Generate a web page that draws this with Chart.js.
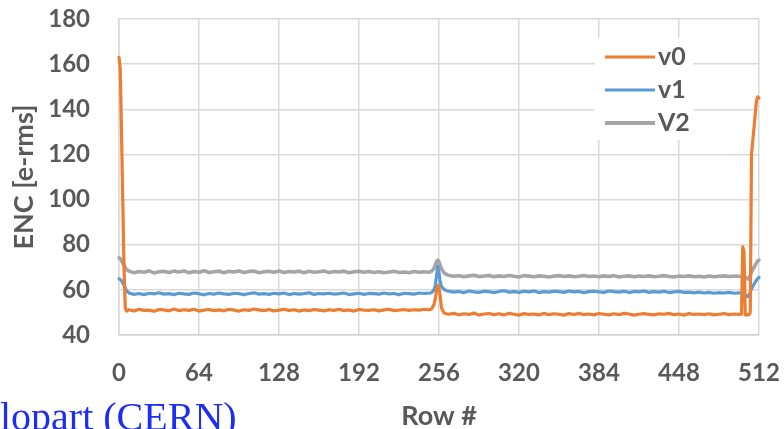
<!DOCTYPE html>
<html>
<head>
<meta charset="utf-8">
<script src="https://cdn.jsdelivr.net/npm/chart.js@4/dist/chart.umd.min.js"></script>
<style>
  html, body { margin: 0; padding: 0; background: #ffffff; }
  #wrap { width: 784px; height: 429px; position: relative; }
</style>
</head>
<body>
<div id="wrap"><canvas id="enc"></canvas></div>
<script>
// Row numbers at which ENC was sampled
const rows = [
  0, 1, 2, 3, 4, 5, 6,
  8, 12, 16, 20, 24, 28, 32, 36, 40, 44,
  48, 52, 56, 60, 64, 68, 72, 76, 80, 84,
  88, 92, 96, 100, 104, 108, 112, 116, 120, 124,
  128, 132, 136, 140, 144, 148, 152, 156, 160, 164,
  168, 172, 176, 180, 184, 188, 192, 196, 200, 204,
  208, 212, 216, 220, 224, 228, 232, 236, 240, 244,
  248,
  250, 252, 253, 254, 255, 256, 257, 258, 260, 262,
  264, 268, 272, 276, 280, 284, 288, 292, 296, 300,
  304, 308, 312, 316, 320, 324, 328, 332, 336, 340,
  344, 348, 352, 356, 360, 364, 368, 372, 376, 380,
  384, 388, 392, 396, 400, 404, 408, 412, 416, 420,
  424, 428, 432, 436, 440, 444, 448, 452, 456, 460,
  464, 468, 472, 476, 480, 484, 488, 492, 496,
  498, 499, 500, 501, 502, 503, 504, 505, 506, 508, 510, 511, 512
];

// ENC [e-rms] for each front-end version
const encV0 = [
  163, 158, 130, 100, 70, 52, 50.6,
  51.2, 50.6, 51.4, 50.9, 51.0, 50.5, 51.3, 51.1, 50.7, 51.5,
  50.8, 51.2, 50.9, 51.4, 50.6, 51.0, 51.3, 50.8, 51.1, 50.7,
  51.4, 51.0, 50.6, 51.2, 50.9, 51.5, 51.1, 50.8, 51.3, 50.7,
  51.0, 51.4, 50.9, 51.2, 50.6, 51.1, 50.8, 51.3, 51.0, 50.7,
  51.2, 50.9, 51.4, 50.8, 51.1, 50.6, 51.3, 51.0, 50.9, 51.2,
  50.7, 51.1, 51.4, 50.8, 51.0, 51.3, 50.9, 51.2, 51.0, 51.4,
  51.2,
  51.5, 53.5, 56, 59.5, 62, 61, 57, 52, 49.8, 49.4,
  49.2, 49.6, 48.9, 49.4, 49.1, 49.7, 48.8, 49.3, 49.5, 49.0,
  49.4, 48.9, 49.6, 49.2, 48.8, 49.5, 49.1, 49.3, 48.9, 49.6,
  49.0, 49.4, 49.2, 48.8, 49.5, 49.1, 49.6, 49.0, 49.3, 48.9,
  49.5, 49.2, 48.9, 49.4, 49.0, 49.6, 49.3, 48.8, 49.2, 49.5,
  49.1, 48.9, 49.4, 49.2, 49.6, 49.0, 49.3, 48.8, 49.5, 49.1,
  49.3, 49.0, 49.4, 48.9, 49.2, 49.5, 49.0, 49.3, 49.1,
  49.2, 79, 77, 49.0, 48.8, 49.1, 49.0, 50, 120, 132, 144, 145.5, 145
];
const encV1 = [
  65, 64.6, 64, 63, 62, 61, 59.6,
  58.6, 58.0, 58.4, 57.9, 58.5, 58.2, 58.7, 58.1, 58.3, 57.9,
  58.5, 58.2, 58.0, 58.6, 58.3, 57.8, 58.4, 58.1, 58.6, 58.2,
  58.0, 58.5, 58.3, 57.9, 58.4, 58.7, 58.1, 58.3, 58.0, 58.5,
  58.2, 58.6, 57.9, 58.4, 58.1, 58.3, 58.7, 58.0, 58.4, 58.2,
  58.5, 58.1, 58.3, 58.6, 57.9, 58.2, 58.5, 58.0, 58.4, 58.3,
  58.1, 58.6, 58.2, 58.4, 57.9, 58.5, 58.3, 58.1, 58.6, 58.4,
  58.5,
  58.7, 60, 62, 66, 70.5, 67.5, 63.5, 61.5, 60.2, 59.6,
  59.4, 59.0, 59.3, 58.8, 59.5, 59.1, 58.9, 59.4, 59.2, 58.8,
  59.3, 59.6, 59.0, 59.2, 58.9, 59.4, 59.1, 59.5, 58.8, 59.2,
  59.0, 59.4, 59.2, 58.9, 59.5, 59.1, 59.3, 58.8, 59.2, 59.4,
  59.1, 58.9, 59.5, 59.2, 59.0, 59.4, 58.8, 59.3, 59.1, 59.5,
  58.9, 59.2, 59.0, 59.4, 58.8, 59.1, 59.3, 58.9, 59.0, 58.7,
  59.0, 58.6, 58.9, 58.5, 58.8, 58.6, 58.9, 58.5, 58.7,
  58.6, 58.5, 58.3, 58.0, 57.4, 57.0, 57.6, 59, 60.5, 62.5, 64.3, 65, 65.5
];
const encV2 = [
  74.2, 73.8, 73, 72, 71, 70, 69,
  68.3, 67.6, 68.1, 67.8, 68.4, 67.5, 68.0, 68.2, 67.7, 68.3,
  67.9, 68.4, 67.6, 68.1, 67.8, 68.5, 67.7, 68.0, 68.3, 67.6,
  68.2, 67.9, 68.4, 67.7, 68.1, 68.3, 67.6, 68.0, 68.2, 67.8,
  68.4, 67.7, 68.1, 67.9, 68.3, 67.6, 68.2, 67.8, 68.0, 68.4,
  67.7, 68.1, 67.9, 68.3, 67.6, 68.0, 68.2, 67.8, 68.1, 67.7,
  68.0, 67.6, 67.9, 68.2, 67.7, 67.9, 67.6, 68.1, 67.8, 68.0,
  67.8,
  68.2, 69.5, 71, 72.5, 73.2, 72.4, 70.8, 69.2, 67.6, 66.8,
  66.4, 66.0, 66.3, 65.8, 66.2, 66.5, 65.9, 66.1, 66.4, 65.8,
  66.2, 65.9, 66.4, 66.0, 65.7, 66.3, 66.1, 65.8, 66.2, 66.0,
  65.7, 66.1, 66.3, 65.9, 66.2, 65.8, 66.0, 66.4, 65.9, 66.1,
  65.8, 66.2, 65.9, 66.3, 65.7, 66.0, 66.2, 65.8, 66.1, 65.9,
  66.2, 65.8, 66.0, 66.3, 65.9, 65.7, 66.1, 65.9, 66.2, 65.8,
  66.0, 65.7, 66.1, 65.8, 66.0, 66.2, 65.9, 66.1, 66.0,
  65.9, 65.9, 65.8, 65.6, 65.2, 64.8, 65.3, 66.5, 68, 70, 72, 72.8, 73.2
];

const seriesLabels = ['v0', 'v1', 'V2'];
const seriesColors = ['#ED7D31', '#5B9BD5', '#A5A5A5'];
const xTicks = [0, 64, 128, 192, 256, 320, 384, 448, 512];
const yTicks = [40, 60, 80, 100, 120, 140, 160, 180];

const TEXT = '#595959';
const GRID = '#D9D9D9';
const FONT = 'Lato';

function points(values) {
  return rows.map((r, i) => ({ x: r, y: values[i] }));
}

// Legend box drawn inside the plot, upper right
const insideLegend = {
  id: 'insideLegend',
  beforeDatasetsDraw(chart) {
    const ctx = chart.ctx;
    ctx.save();
    ctx.fillStyle = '#ffffff';
    ctx.fillRect(595, 38, 98, 102);
    const ys = [57, 90, 123];
    chart.data.datasets.forEach((ds, i) => {
      ctx.strokeStyle = ds.borderColor;
      ctx.lineWidth = i === 2 ? 4 : 3.2;
      ctx.beginPath();
      ctx.moveTo(605, ys[i]);
      ctx.lineTo(655, ys[i]);
      ctx.stroke();
      ctx.fillStyle = TEXT;
      ctx.font = 'bold 25px ' + FONT;
      ctx.textAlign = 'left';
      ctx.textBaseline = 'middle';
      ctx.fillText(ds.label, 658, ys[i]);
    });
    ctx.restore();
  }
};

// Credit line along the bottom edge
const creditText = {
  id: 'creditText',
  afterDraw(chart) {
    const ctx = chart.ctx;
    ctx.save();
    ctx.fillStyle = '#1E2EF0';
    ctx.font = '40px "Liberation Serif"';
    ctx.textAlign = 'left';
    ctx.textBaseline = 'alphabetic';
    ctx.fillText('lopart (CERN)', 0, 430);
    ctx.restore();
  }
};

new Chart(document.getElementById('enc'), {
  type: 'line',
  data: {
    datasets: [
      { label: seriesLabels[0], data: points(encV0), borderColor: seriesColors[0], borderWidth: 3.2 },
      { label: seriesLabels[1], data: points(encV1), borderColor: seriesColors[1], borderWidth: 3.2 },
      { label: seriesLabels[2], data: points(encV2), borderColor: seriesColors[2], borderWidth: 3.6 }
    ]
  },
  options: {
    responsive: true,
    maintainAspectRatio: false,
    animation: false,
    layout: { autoPadding: false, padding: { left: 0, right: 25, top: 19, bottom: 0 } },
    elements: {
      point: { radius: 0, hoverRadius: 0 },
      line: { tension: 0, fill: false, borderJoinStyle: 'round', borderCapStyle: 'round' }
    },
    datasets: { line: { clip: false } },
    plugins: {
      legend: { display: false },
      tooltip: { enabled: false }
    },
    scales: {
      x: {
        type: 'linear',
        min: 0,
        max: 512,
        afterBuildTicks(scale) { scale.ticks = xTicks.map(v => ({ value: v })); },
        afterFit(scale) {
          scale.height = 94;
          scale.paddingLeft = 0;
          scale.paddingRight = 0;
        },
        ticks: {
          color: TEXT,
          font: { family: FONT, size: 24, weight: 'bold' },
          padding: 24,
          maxRotation: 0,
          autoSkip: false
        },
        grid: { color: GRID, lineWidth: 1.5, drawTicks: false },
        border: { display: true, color: '#D0D0D0', width: 1.5 },
        title: {
          display: true,
          text: 'Row #',
          color: TEXT,
          font: { family: FONT, size: 27, weight: 'bold' },
          padding: { top: 0, bottom: -3 }
        }
      },
      y: {
        min: 40,
        max: 180,
        afterBuildTicks(scale) { scale.ticks = yTicks.map(v => ({ value: v })); },
        afterFit(scale) {
          scale.width = 119;
          scale.paddingTop = 0;
          scale.paddingBottom = 0;
        },
        ticks: {
          color: TEXT,
          font: { family: FONT, size: 24, weight: 'bold' },
          padding: 29
        },
        grid: { color: GRID, lineWidth: 1.5, drawTicks: false },
        border: { display: true, color: GRID, width: 1.5 },
        title: {
          display: true,
          text: 'ENC [e-rms]',
          color: TEXT,
          font: { family: FONT, size: 27, weight: 'bold' },
          padding: { top: 8, bottom: 0 }
        }
      }
    }
  },
  plugins: [insideLegend, creditText]
});
</script>
</body>
</html>
